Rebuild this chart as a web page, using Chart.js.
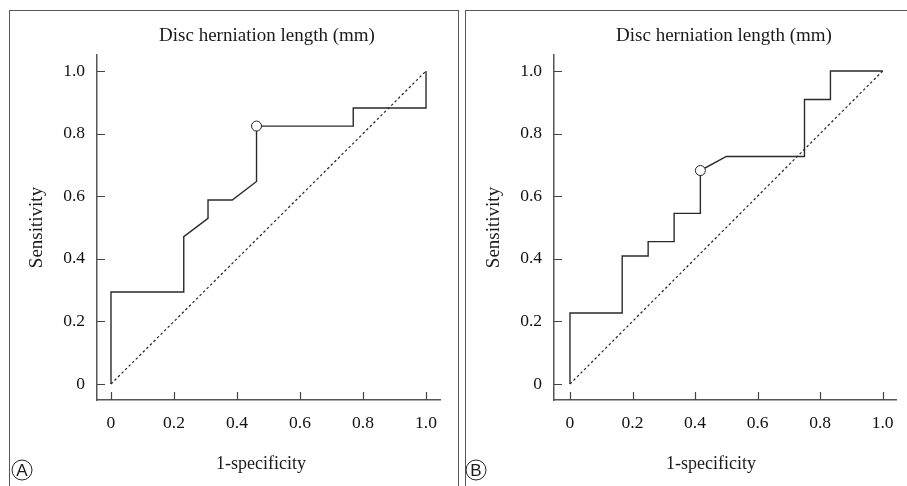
<!DOCTYPE html>
<html>
<head>
<meta charset="utf-8">
<script src="https://cdn.jsdelivr.net/npm/chart.js@4"></script>
<style>
  body { margin: 0; background: #fff; width: 907px; height: 486px; overflow: hidden; position: relative; }
  .frame { position: absolute; border: 1.5px solid #555; box-sizing: border-box; }
  #frameA { left: 9px; top: 10px; width: 450px; height: 500px; }
  #frameB { left: 465px; top: 10px; width: 460px; height: 500px; }
  canvas { position: absolute; top: 0; }
  #chartA { left: 0; }
  #chartB { left: 460px; }
</style>
</head>
<body>
<div class="frame" id="frameA"></div>
<div class="frame" id="frameB"></div>
<canvas id="chartA" width="460" height="486"></canvas>
<canvas id="chartB" width="447" height="486"></canvas>
<script>
// axis ticks
const tickValues = [0, 0.2, 0.4, 0.6, 0.8, 1.0];
const tickLabels = ['0', '0.2', '0.4', '0.6', '0.8', '1.0'];

// panel A: ROC steps (1-specificity, sensitivity)
const rocAX = [0, 0, 0.231, 0.231, 0.308, 0.308, 0.385, 0.462, 0.462, 0.769, 0.769, 1.0, 1.0];
const rocAY = [0, 0.294, 0.294, 0.471, 0.529, 0.588, 0.588, 0.647, 0.824, 0.824, 0.882, 0.882, 1.0];
const cutA = [0.462, 0.824];

// panel B
const rocBX = [0, 0, 0.167, 0.167, 0.25, 0.25, 0.333, 0.333, 0.417, 0.417, 0.5, 0.75, 0.75, 0.833, 0.833, 1.0];
const rocBY = [0, 0.227, 0.227, 0.409, 0.409, 0.455, 0.455, 0.545, 0.545, 0.682, 0.727, 0.727, 0.909, 0.909, 1.0, 1.0];
const cutB = [0.417, 0.682];

// reference diagonal
const chance = [0, 1];

const serif = '"Liberation Serif", "Times New Roman", serif';

// inward tick marks + panel texts
const panelDecor = {
  id: 'panelDecor',
  afterDraw(chart, args, opts) {
    const { ctx, scales: { x, y } } = chart;
    ctx.save();
    ctx.strokeStyle = '#444';
    ctx.lineWidth = 1.2;
    ctx.beginPath();
    x.ticks.forEach(t => {
      const px = Math.round(x.getPixelForValue(t.value)) + 0.5;
      ctx.moveTo(px, x.top);
      ctx.lineTo(px, x.top - 8);
    });
    y.ticks.forEach(t => {
      const py = Math.round(y.getPixelForValue(t.value)) + 0.5;
      ctx.moveTo(y.right, py);
      ctx.lineTo(y.right + 8, py);
    });
    ctx.stroke();

    ctx.fillStyle = '#1a1a1a';
    ctx.textAlign = 'center';
    ctx.textBaseline = 'middle';
    ctx.font = '19px ' + serif;
    ctx.fillText(opts.title, opts.titleX, opts.titleY);
    ctx.font = '18px ' + serif;
    ctx.fillText(opts.xLabel, opts.xLabelX, opts.xLabelY);

    ctx.strokeStyle = '#222';
    ctx.lineWidth = 1;
    ctx.beginPath();
    ctx.arc(opts.tagX, opts.tagY, 10, 0, Math.PI * 2);
    ctx.stroke();
    ctx.font = '17px "Liberation Sans", Arial, sans-serif';
    ctx.fillText(opts.tag, opts.tagX, opts.tagY + 1);
    ctx.restore();
  }
};

function makeChart(id, rx, ry, cut, xmin, xmax, yAxisW, padRight, yTitlePad, decor) {
  return new Chart(document.getElementById(id), {
    type: 'scatter',
    data: {
      datasets: [
        {
          data: [{ x: cut[0], y: cut[1] }],
          pointRadius: 5,
          pointBackgroundColor: '#fff',
          pointBorderColor: '#222',
          pointBorderWidth: 1
        },
        {
          data: rx.map((v, i) => ({ x: v, y: ry[i] })),
          showLine: true,
          borderColor: '#2a2a2a',
          borderWidth: 1.4,
          pointRadius: 0
        },
        {
          data: chance.map(v => ({ x: v, y: v })),
          showLine: true,
          borderColor: '#222',
          borderWidth: 1.2,
          borderDash: [2.5, 2.5],
          pointRadius: 0
        }
      ]
    },
    options: {
      responsive: false,
      animation: false,
      layout: { padding: { left: 0, top: 55, right: padRight, bottom: 0 } },
      plugins: {
        legend: { display: false },
        tooltip: { enabled: false },
        panelDecor: decor
      },
      scales: {
        x: {
          type: 'linear',
          min: xmin,
          max: xmax,
          grid: { display: false, drawTicks: false },
          border: { color: '#555', width: 1.5 },
          afterBuildTicks: s => { s.ticks = tickValues.map(v => ({ value: v })); },
          afterFit: s => { s.height = 86; },
          ticks: {
            padding: 13,
            color: '#111',
            font: { family: serif, size: 17.5 },
            callback: (v, i) => tickLabels[i]
          }
        },
        y: {
          type: 'linear',
          min: -0.0511,
          max: 1.0511,
          grid: { display: false, drawTicks: false },
          border: { color: '#555', width: 1.5 },
          afterBuildTicks: s => { s.ticks = tickValues.map(v => ({ value: v })); },
          afterFit: s => { s.width = yAxisW; },
          ticks: {
            padding: 12,
            color: '#111',
            font: { family: serif, size: 17.5 },
            callback: (v, i) => tickLabels[i]
          },
          title: {
            display: true,
            text: 'Sensitivity',
            color: '#1a1a1a',
            font: { family: serif, size: 19 },
            padding: { top: yTitlePad, bottom: 0 }
          }
        }
      }
    },
    plugins: [panelDecor]
  });
}

makeChart('chartA', rocAX, rocAY, cutA, -0.0444, 1.0444, 97, 20, 26, {
  title: 'Disc herniation length (mm)', titleX: 267, titleY: 36,
  xLabel: '1-specificity', xLabelX: 261, xLabelY: 464,
  tag: 'A', tagX: 22, tagY: 470
});

makeChart('chartB', rocBX, rocBY, cutB, -0.0511, 1.0447, 94, 10, 23, {
  title: 'Disc herniation length (mm)', titleX: 264, titleY: 36,
  xLabel: '1-specificity', xLabelX: 251, xLabelY: 464,
  tag: 'B', tagX: 16, tagY: 470
});
</script>
</body>
</html>
